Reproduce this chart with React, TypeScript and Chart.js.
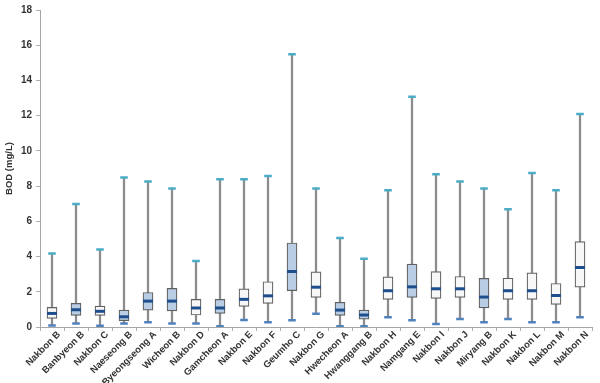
import React, { useEffect, useRef } from "react";
import { Chart, registerables } from "chart.js";

Chart.register(...registerables);

const categories = [
  "Nakbon B", "Banbyeon B", "Nakbon C", "Naeseong B", "Byeongseong A", "Wicheon B",
  "Nakbon D", "Gamcheon A", "Nakbon E", "Nakbon F", "Geumho C", "Nakbon G",
  "Hwecheon A", "Hwanggang B", "Nakbon H", "Namgang E", "Nakbon I", "Nakbon J",
  "Miryang B", "Nakbon K", "Nakbon L", "Nakbon M", "Nakbon N",
];
const maxVals = [4.17, 6.98, 4.4, 8.49, 8.26, 7.87, 3.75, 8.39, 8.39, 8.57, 15.49, 7.87, 5.06, 3.87, 7.77, 13.07, 8.68, 8.26, 7.87, 6.68, 8.75, 7.77, 12.09];
const q3Vals = [1.11, 1.34, 1.19, 0.96, 1.96, 2.19, 1.57, 1.57, 2.17, 2.57, 4.77, 3.13, 1.4, 0.96, 2.85, 3.57, 3.15, 2.87, 2.76, 2.77, 3.07, 2.47, 4.85];
const medianVals = [0.77, 0.98, 0.89, 0.58, 1.47, 1.47, 1.08, 1.08, 1.57, 1.77, 3.15, 2.26, 0.96, 0.68, 2.06, 2.28, 2.17, 2.17, 1.7, 2.06, 2.06, 1.79, 3.38];
const q1Vals = [0.49, 0.66, 0.66, 0.36, 0.96, 0.92, 0.68, 0.77, 1.17, 1.34, 2.06, 1.68, 0.66, 0.45, 1.57, 1.68, 1.62, 1.68, 1.08, 1.57, 1.57, 1.28, 2.26];
const minVals = [0.08, 0.2, 0.07, 0.2, 0.27, 0.2, 0.2, 0.04, 0.4, 0.27, 0.38, 0.75, 0.04, 0.04, 0.55, 0.38, 0.17, 0.45, 0.27, 0.45, 0.27, 0.27, 0.55];
const tributaries = [
  "Banbyeon B", "Naeseong B", "Byeongseong A", "Wicheon B", "Gamcheon A",
  "Geumho C", "Hwecheon A", "Hwanggang B", "Namgang E", "Miryang B",
];
const yTicks = [0, 2, 4, 6, 8, 10, 12, 14, 16, 18];

export default function App() {
  const ref = useRef<HTMLCanvasElement | null>(null);
  useEffect(() => {
    if (!ref.current) return;
    Chart.defaults.font.family = "'Liberation Sans', Arial, sans-serif";
    const chart = new Chart(ref.current, {
      type: "bar",
      data: {
        labels: categories,
        datasets: [
          {
            type: "bar",
            label: "whisker",
            data: categories.map((_, i) => [minVals[i], maxVals[i]]),
            backgroundColor: "#8c8c8c",
            borderWidth: 0,
            barThickness: 1.6,
            grouped: false,
            order: 5,
          } as any,
          {
            type: "bar",
            label: "box",
            data: categories.map((_, i) => [q1Vals[i], q3Vals[i]]),
            backgroundColor: categories.map((c) => (tributaries.includes(c) ? "#b9cde5" : "#f7f7f7")),
            borderColor: "#5f5f5f",
            borderWidth: 1.2,
            borderSkipped: false,
            barThickness: 10,
            grouped: false,
            order: 4,
          } as any,
          {
            type: "line",
            label: "median",
            data: medianVals,
            showLine: false,
            pointStyle: "line",
            pointRadius: 5,
            pointBorderWidth: 3,
            pointBorderColor: "#1f4e8c",
            pointBackgroundColor: "#1f4e8c",
            order: 1,
          } as any,
          {
            type: "line",
            label: "max",
            data: maxVals,
            showLine: false,
            pointStyle: "line",
            pointRadius: 3.8,
            pointBorderWidth: 2.5,
            pointBorderColor: "#4bacc6",
            order: 1,
          } as any,
          {
            type: "line",
            label: "min",
            data: minVals,
            showLine: false,
            pointStyle: "line",
            pointRadius: 3.8,
            pointBorderWidth: 2.5,
            pointBorderColor: "#4f81bd",
            order: 1,
          } as any,
        ],
      },
      options: {
        responsive: false,
        animation: false,
        layout: { padding: { top: 4, right: 3, left: 0, bottom: 0 } },
        plugins: { legend: { display: false }, tooltip: { enabled: false } },
        scales: {
          x: {
            offset: true,
            grid: { drawOnChartArea: false, drawTicks: true, tickLength: 4, color: "#b0b0b0", offset: true },
            border: { display: true, color: "#a6a6a6", width: 1 },
            ticks: {
              minRotation: 45,
              maxRotation: 45,
              autoSkip: false,
              color: "#333333",
              padding: -2,
              labelOffset: 7,
              font: { size: 9.5, weight: "bold" },
            },
            afterFit: (s: any) => {
              s.height = 56;
            },
          },
          y: {
            min: 0,
            max: 18,
            afterBuildTicks: (s: any) => {
              s.ticks = yTicks.map((v) => ({ value: v }));
            },
            grid: { drawOnChartArea: false, drawTicks: true, tickLength: 4, color: "#b0b0b0" },
            border: { display: true, color: "#a6a6a6", width: 1 },
            ticks: {
              color: "#333333",
              padding: 4,
              font: { size: 10, weight: "bold" },
            },
            title: {
              display: true,
              text: "BOD (mg/L)",
              color: "#333333",
              font: { size: 9.5, weight: "bold" },
              padding: { top: 4, bottom: 0 },
            },
            afterFit: (s: any) => {
              s.width = 40;
            },
          },
        },
      },
    });
    return () => chart.destroy();
  }, []);
  return (
    <div style={{ position: "fixed", left: 0, top: 0, width: 600, height: 383, background: "#ffffff" }}>
      <canvas ref={ref} width={600} height={383} />
    </div>
  );
}
